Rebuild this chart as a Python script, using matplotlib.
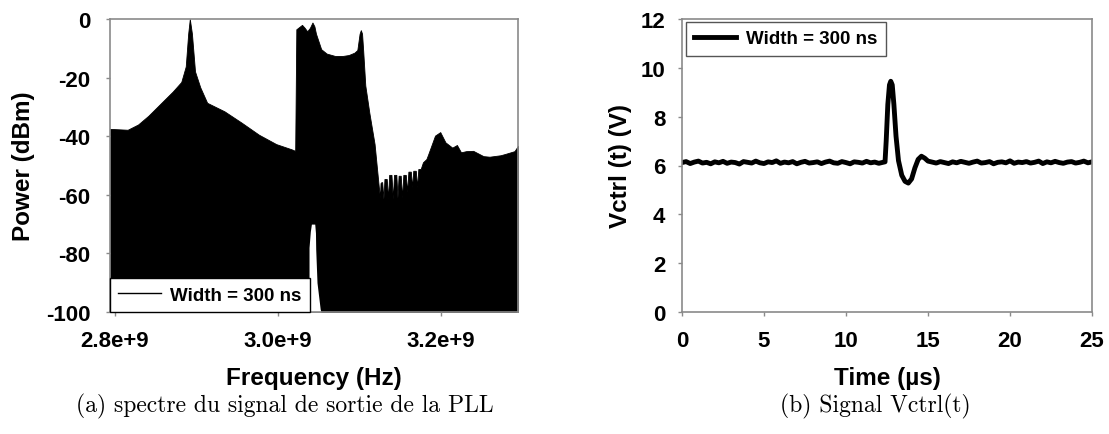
import numpy as np
import matplotlib
matplotlib.use("Agg")
import matplotlib.pyplot as plt
from matplotlib.lines import Line2D

# Spectrum envelope of the PLL output (a), frequency in GHz, power in dBm
spec_ghz = [2.794, 2.8157, 2.8285, 2.8412, 2.8582, 2.8709, 2.8815, 2.8870,
            2.8900, 2.8920, 2.8946, 2.8984, 2.9048, 2.9133, 2.9345, 2.9557,
            2.9769, 2.9981, 3.0172, 3.0214, 3.0228, 3.0298, 3.0330, 3.0362,
            3.0395, 3.0426, 3.0450, 3.0469, 3.0533, 3.0600, 3.0702, 3.0800,
            3.0871, 3.0940, 3.0977, 3.1005, 3.1020, 3.1035, 3.1049, 3.1075,
            3.1125, 3.1189, 3.1239, 3.1255, 3.1262,
            3.1272, 3.1282, 3.1298, 3.1310, 3.1325, 3.1338, 3.1354, 3.1368,
            3.1383, 3.1396, 3.1413, 3.1428, 3.1444, 3.1456, 3.1470, 3.1484,
            3.1497, 3.1510, 3.1527, 3.1542, 3.1558, 3.1572, 3.1589, 3.1604,
            3.1620, 3.1634, 3.1650, 3.1664, 3.1681, 3.1695, 3.1711, 3.1726,
            3.1742, 3.1755, 3.1783, 3.1825, 3.1847, 3.1931, 3.1995, 3.2059,
            3.2143, 3.2200, 3.2250, 3.2313, 3.2400, 3.2525, 3.2600, 3.2736,
            3.2800, 3.2907, 3.2949]
spec_db = [-37.5, -37.8, -36.0, -33.0, -28.3, -24.8, -21.5, -16.2,
           -5.0, 0.0, -5.0, -17.9, -23.3, -28.6, -31.5, -35.4,
           -39.5, -42.7, -44.5, -45.0, -3.5, -2.0, -3.0, -4.2,
           -3.0, -1.2, -2.5, -5.0, -10.3, -11.8, -12.6, -12.6,
           -12.3, -11.5, -10.6, -5.0, -3.8, -5.0, -10.8, -22.7,
           -32.1, -42.7, -56.9, -61.0, -56.0,
           -55.7, -55.7, -61.4, -54.6, -54.6, -54.6, -61.4, -53.2,
           -53.2, -53.2, -61.4, -53.2, -53.2, -53.2, -61.0, -53.5,
           -53.5, -53.5, -61.0, -53.2, -53.2, -53.2, -59.0, -52.1,
           -52.1, -52.1, -57.4, -51.8, -51.8, -51.8, -57.4, -51.2,
           -51.2, -51.2, -48.9, -47.8, -46.2, -39.8, -38.6, -42.1,
           -43.9, -43.0, -45.5, -45.1, -45.0, -46.8, -47.0, -46.5,
           -46.0, -45.1, -43.3]

# white notch at the bottom of the spectrum
notch_ghz = [3.0370, 3.0384, 3.0384, 3.0400, 3.0413, 3.0454, 3.0463, 3.0466,
             3.0482, 3.0521, 3.0530]
notch_db = [-100, -97, -78, -72.5, -70, -70, -73, -78.5, -90, -99, -100]

freq_ticks = [2.8e9, 3.0e9, 3.2e9]
freq_labels = ["2.8e+9", "3.0e+9", "3.2e+9"]
power_ticks = [0, -20, -40, -60, -80, -100]

# Vctrl(t) (b), time in us, voltage in V
t_before = np.linspace(0, 12.25, 50)
v_before = [6.12, 6.16, 6.08, 6.14, 6.18, 6.10, 6.13, 6.07, 6.15, 6.11,
            6.17, 6.09, 6.14, 6.12, 6.06, 6.16, 6.13, 6.10, 6.18, 6.11,
            6.08, 6.15, 6.12, 6.19, 6.09, 6.14, 6.11, 6.16, 6.07, 6.13,
            6.17, 6.10, 6.12, 6.15, 6.08, 6.14, 6.18, 6.11, 6.09, 6.16,
            6.12, 6.07, 6.15, 6.13, 6.10, 6.17, 6.11, 6.14, 6.09, 6.13]
t_pulse = [12.38, 12.45, 12.55, 12.65, 12.73, 12.82, 12.92, 13.05, 13.2,
           13.4, 13.6, 13.8, 14.0, 14.2, 14.4, 14.6, 14.8, 15.0]
v_pulse = [6.15, 7.0, 8.5, 9.3, 9.45, 9.3, 8.5, 7.2, 6.2,
           5.6, 5.35, 5.28, 5.45, 5.9, 6.25, 6.38, 6.3, 6.18]
t_after = np.linspace(15.25, 25.0, 40)
v_after = [6.14, 6.10, 6.16, 6.12, 6.08, 6.15, 6.11, 6.17, 6.13, 6.09,
           6.14, 6.18, 6.10, 6.12, 6.16, 6.07, 6.13, 6.15, 6.11, 6.19,
           6.09, 6.14, 6.12, 6.16, 6.10, 6.13, 6.18, 6.08, 6.15, 6.11,
           6.17, 6.12, 6.09, 6.14, 6.16, 6.10, 6.13, 6.18, 6.11, 6.15]

time_ticks = [0, 5, 10, 15, 20, 25]
volt_ticks = [0, 2, 4, 6, 8, 10, 12]

plt.rcParams['font.family'] = ['Liberation Sans', 'DejaVu Sans']
plt.rcParams['font.weight'] = 'bold'

W, H = 1109, 435
fig = plt.figure(figsize=(W / 100, H / 100), dpi=100)


def px_rect(left, top, right, bottom):
    return [left / W, 1 - bottom / H, (right - left) / W, (bottom - top) / H]


def style_axes(ax, ypad):
    for s in ax.spines.values():
        s.set_color('#8a8a8a')
        s.set_linewidth(1.2)
    ax.tick_params(axis='both', direction='out', length=3, width=1,
                   color='#8a8a8a', labelsize=16)
    ax.tick_params(axis='x', pad=10)
    ax.tick_params(axis='y', pad=ypad)


# ---- (a) spectrum
ax1 = fig.add_axes(px_rect(110, 20, 518, 313))
freq = np.array(spec_ghz) * 1e9
ax1.fill_between(freq, spec_db, -100, color='black', lw=0.6, edgecolor='black')
ax1.fill_between(np.array(notch_ghz) * 1e9, notch_db, -100, color='white', lw=0)
ax1.set_xlim(2.794e9, 3.295e9)
ax1.set_ylim(-100, 0)
ax1.set_xticks(freq_ticks)
ax1.set_xticklabels(freq_labels)
ax1.set_yticks(power_ticks)
ax1.set_yticklabels([str(v) for v in power_ticks])
style_axes(ax1, 11)
ax1.set_xlabel('Frequency (Hz)', fontsize=17.5, fontweight='bold')
ax1.xaxis.set_label_coords(0.5, (313 - 378) / 293)
ax1.xaxis.label.set_va('center')
ax1.set_ylabel('Power (dBm)', fontsize=17.5, fontweight='bold')
ax1.yaxis.set_label_coords((24 - 110) / 408, 0.5)
ax1.yaxis.label.set_va('center')
h1 = Line2D([], [], color='black', lw=1)
ax1.legend([h1], ['Width = 300 ns'], loc='lower left', bbox_to_anchor=(0, 0),
           borderaxespad=0, fancybox=False, framealpha=1, edgecolor='black',
           fontsize=13.5, handlelength=2.25, handletextpad=0.5,
           borderpad=0.45)

# ---- (b) Vctrl
ax2 = fig.add_axes(px_rect(682, 20, 1092, 313))
t_all = np.concatenate([t_before, t_pulse, t_after])
v_all = np.concatenate([v_before, v_pulse, v_after])
ax2.plot(t_all, v_all, color='black', lw=3.5, solid_joinstyle='round')
ax2.set_xlim(0, 25)
ax2.set_ylim(0, 12)
ax2.set_xticks(time_ticks)
ax2.set_yticks(volt_ticks)
style_axes(ax2, 9)
ax2.set_xlabel('Time (µs)', fontsize=17.5, fontweight='bold')
ax2.xaxis.set_label_coords(0.5, (313 - 378) / 293)
ax2.xaxis.label.set_va('center')
ax2.set_ylabel('Vctrl (t) (V)', fontsize=17.5, fontweight='bold')
ax2.yaxis.set_label_coords((620 - 682) / 410, 0.5)
ax2.yaxis.label.set_va('center')
h2 = Line2D([], [], color='black', lw=3.5)
ax2.legend([h2], ['Width = 300 ns'], loc='upper left',
           bbox_to_anchor=(0.009, 0.991), borderaxespad=0, fancybox=False,
           framealpha=1, edgecolor='#555555', fontsize=13.5, handlelength=2.25,
           handletextpad=0.5, borderpad=0.45)

# captions
fig.text(285 / W, 1 - 406 / H, '(a) spectre du signal de sortie de la PLL',
         ha='center', va='center', family=['cmr10', 'DejaVu Serif'],
         fontsize=17, fontweight='normal')
fig.text(875 / W, 1 - 406 / H, '(b) Signal Vctrl(t)',
         ha='center', va='center', family=['cmr10', 'DejaVu Serif'],
         fontsize=17, fontweight='normal')

fig.savefig('out.png', dpi=100)
